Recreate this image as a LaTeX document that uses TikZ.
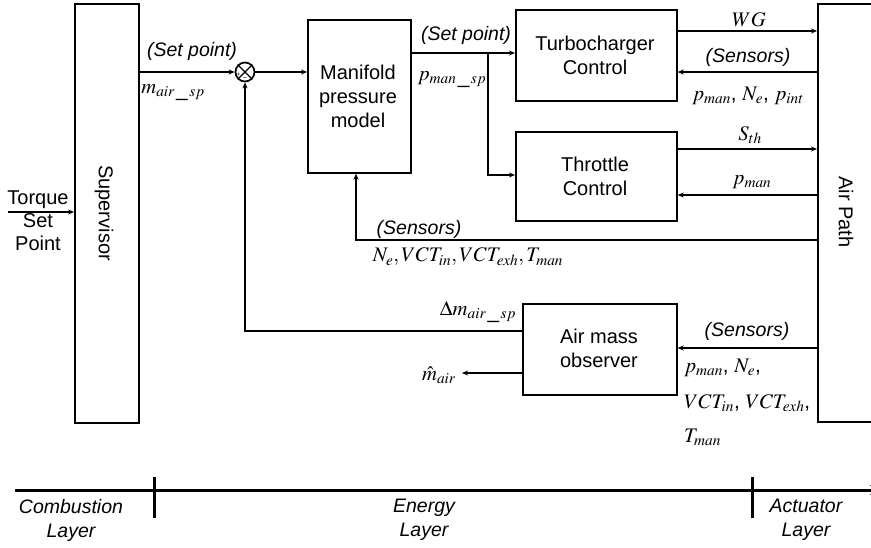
\documentclass[tikz,border=0pt]{standalone}
\usepackage{mathptmx}
\usepackage{fontspec}
\setmainfont{Liberation Sans}
\usetikzlibrary{arrows.meta}
\tikzset{
  box/.style={draw, line width=1.7pt, inner sep=0pt, anchor=north west},
  lbl/.style={font=\fontsize{20}{24}\selectfont, align=center, inner sep=0pt},
  ilbl/.style={font=\fontsize{19.5}{22}\selectfont\itshape, inner sep=0pt},
  mlbl/.style={font=\fontsize{20.7}{24}\selectfont, inner sep=0pt},
  laylbl/.style={font=\fontsize{19.5}{24}\selectfont\itshape, align=center, inner sep=0pt},
  arr/.style={line width=1.6pt, -{Stealth[length=6pt,width=5pt]}},
  axis/.style={line width=3pt},
}
\begin{document}
\begin{tikzpicture}[x=1pt,y=-1pt]
\useasboundingbox (0,0) rectangle (871,547);
\clip (0,0) rectangle (871,547);
% boxes
\node[box, minimum width=64pt, minimum height=419pt] (sup) at (74,3) {};
\node[lbl, rotate=-90] (suplbl) at (104,213) {Supervisor};
\node[box, minimum width=103pt, minimum height=153pt] (man) at (307,19) {};
\node[lbl] (manlbl) at (358,96) {Manifold\\pressure\\model};
\node[box, minimum width=161pt, minimum height=91pt] (turbo) at (515,9) {};
\node[lbl] (turbolbl) at (595,55) {Turbocharger\\Control};
\node[box, minimum width=161pt, minimum height=89pt] (thr) at (515,131) {};
\node[lbl] (thrlbl) at (595,176) {Throttle\\Control};
\node[box, minimum width=154pt, minimum height=91pt] (obs) at (522,303) {};
\node[lbl] (obslbl) at (599,348) {Air mass\\observer};
\node[box, minimum width=70pt, minimum height=418pt] (air) at (817,3) {};
\node[lbl, rotate=-90] (airlbl) at (846,212) {Air Path};
% summing junction
\node[draw, circle, line width=1.7pt, minimum size=19pt, inner sep=0pt] (sum) at (245,72) {};
\draw[line width=1.4pt] (sum.north west) -- (sum.south east) (sum.north east) -- (sum.south west);
\node[font=\fontsize{6}{6}\selectfont, inner sep=0pt] (plus) at (238.5,75) {+};
\node[font=\fontsize{7}{7}\selectfont, inner sep=0pt] (minus) at (245,78.5) {--};
% torque input
\coordinate (tq) at (8,212);
\draw[arr] (tq) -- (sup.west |- tq);
\node[lbl, font=\fontsize{20}{23}\selectfont] (tqlbl) at (38,220.5) {Torque\\Set\\Point};
% setpoint to sum
\draw[arr] (sup.east |- sum) -- (sum.west);
\node[ilbl] (sp1) at (192,51) {(Set point)};
\node[mlbl] (msp) at (173,93) {$m_{air\,\_\,sp}$};
% sum to manifold
\draw[arr] (sum.east) -- (man.west |- sum);
% manifold to turbo/throttle
\coordinate (mo) at (410,53);
\coordinate (br) at (488,53);
\coordinate (brd) at (488,175);
\draw[arr] (mo) -- (turbo.west |- mo);
\draw[arr] (br) -- (brd) -- (thr.west |- brd);
\node[ilbl] (sp2) at (466,35) {(Set point)};
\node[mlbl] (psp) at (452,80) {$p_{man\,\_\,sp}$};
% helper rows
\coordinate (y31) at (0,31);
\coordinate (y72) at (0,72);
\coordinate (y149) at (0,149);
\coordinate (y195) at (0,195);
\coordinate (y240) at (0,240);
\coordinate (y348) at (0,348);
\coordinate (y331) at (0,331);
% turbo <-> air
\draw[arr] (turbo.east |- y31) -- (air.west |- y31);
\node[mlbl] (wg) at (749,20) {$WG$};
\draw[arr] (air.west |- y72) -- (turbo.east |- y72);
\node[ilbl] (sens1) at (748,57) {(Sensors)};
\node[mlbl] (s1v) at (748,96) {$p_{man}$, $N_e$, $p_{int}$};
% throttle <-> air
\draw[arr] (thr.east |- y149) -- (air.west |- y149);
\node[mlbl] (sth) at (750,135) {$S_{th}$};
\draw[arr] (air.west |- y195) -- (thr.east |- y195);
\node[mlbl] (pm) at (752,182) {$p_{man}$};
% sensors to manifold
\coordinate (fb) at (356,240);
\draw[arr] (air.west |- y240) -- (fb) -- (fb |- man.south);
\node[ilbl] (sens2) at (419,229) {(Sensors)};
\node[mlbl] (s2v) at (468,257) {$N_e,VCT_{in},VCT_{exh},T_{man}$};
% observer
\coordinate (dc) at (245,331);
\draw[arr] (obs.west |- y331) -- (dc) -- (sum.south);
\node[mlbl] (dm) at (478,312) {$\Delta m_{air\,\_\,sp}$};
\coordinate (mh) at (462,373);
\draw[arr] (obs.west |- mh) -- (mh);
\node[mlbl, anchor=east] (mhat) at (456,375) {$\hat{m}_{air}$};
\draw[arr] (air.west |- y348) -- (obs.east |- y348);
\node[ilbl] (sens3) at (747,331) {(Sensors)};
\node[mlbl, anchor=west] (s3a) at (684,368) {$p_{man}$, $N_e$,};
\node[mlbl, anchor=west] (s3b) at (684,403) {$VCT_{in}$, $VCT_{exh}$,};
\node[mlbl, anchor=west] (s3c) at (684,437) {$T_{man}$};
% layer axis
\coordinate (ax0) at (15,490);
\coordinate (ax1) at (882,490);
\draw[axis, -{Stealth[length=12pt,width=10pt]}] (ax0) -- (ax1);
\coordinate (t1a) at (154,477);
\coordinate (t1b) at (154,518);
\coordinate (t2a) at (752,477);
\coordinate (t2b) at (752,518);
\draw[axis] (t1a) -- (t1b);
\draw[axis] (t2a) -- (t2b);
\node[laylbl] (cl) at (71,520) {Combustion\\Layer};
\node[laylbl] (el) at (424,520) {Energy\\Layer};
\node[laylbl] (al) at (806,520) {Actuator\\Layer};
\end{tikzpicture}
\end{document}
